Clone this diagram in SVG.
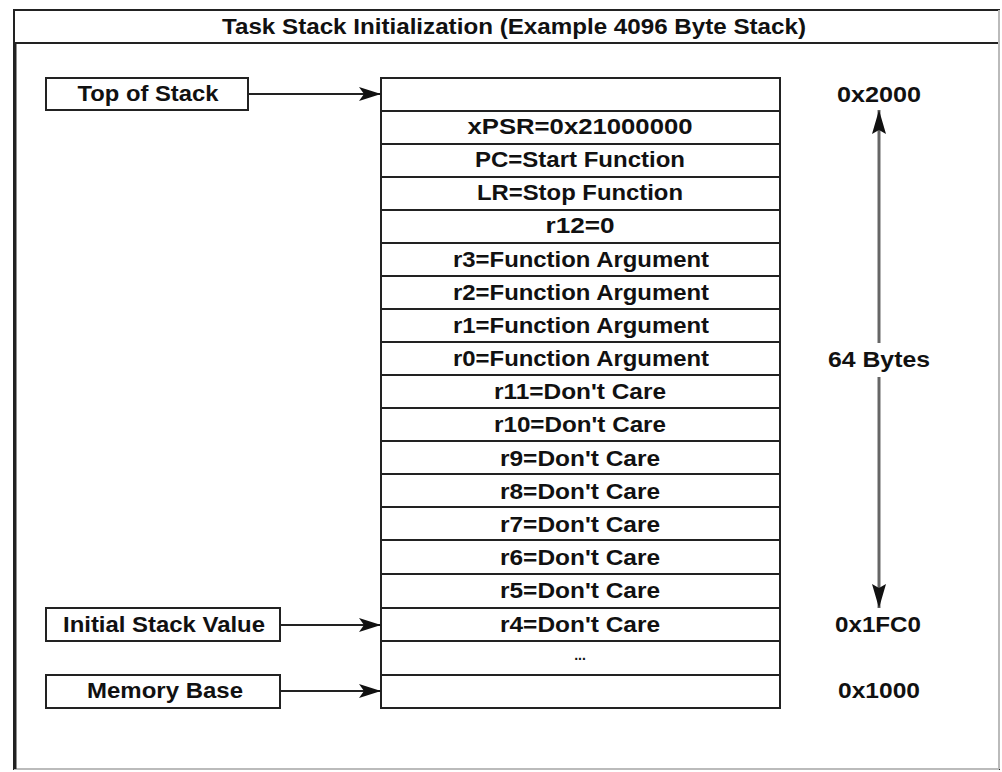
<svg xmlns="http://www.w3.org/2000/svg" width="1002" height="772" viewBox="0 0 1002 772">
<defs>
<style>
text{font-family:"Liberation Sans",Arial,sans-serif;fill:#111;text-anchor:middle;dominant-baseline:central;font-weight:bold;font-size:22px}
.box{fill:#fff;stroke:#222;stroke-width:2}
.row{fill:#fff;stroke:#222;stroke-width:2}
.conn{stroke:#222;stroke-width:2;fill:none}
.dim{stroke:#666;stroke-width:3;fill:none}
</style>
<marker id="ah" viewBox="0 0 22 14" refX="22" refY="7" markerWidth="22" markerHeight="14" markerUnits="userSpaceOnUse" orient="auto">
<path d="M0,0 L22,7 L0,14 L5,7 Z" fill="#111"/>
</marker>
<marker id="ad" viewBox="0 0 24 16" refX="24" refY="8" markerWidth="24" markerHeight="16" markerUnits="userSpaceOnUse" orient="auto">
<path d="M0,1 L24,8 L0,15 L4,8 Z" fill="#111"/>
</marker>
</defs>
<rect width="1002" height="772" fill="#fff"/>
<g id="frame">
<rect x="14" y="10" width="985" height="759" fill="none" stroke="#222" stroke-width="2"/>
<line x1="14" y1="43" x2="999" y2="43" stroke="#222" stroke-width="2"/>
<line x1="999" y1="10" x2="999" y2="769" stroke="#bbb" stroke-width="2"/>
<line x1="14" y1="769" x2="999" y2="769" stroke="#bbb" stroke-width="2"/>
<line x1="15" y1="43" x2="15" y2="769" stroke="#222" stroke-width="3"/>
<text x="514" y="26" textLength="584" lengthAdjust="spacingAndGlyphs">Task Stack Initialization (Example 4096 Byte Stack)</text>
</g>
<g id="stack">
<rect class="row" x="381" y="78" width="399" height="33"/>
<rect class="row" x="381" y="111" width="399" height="33"/><text x="580" y="126" textLength="225" lengthAdjust="spacingAndGlyphs">xPSR=0x21000000</text>
<rect class="row" x="381" y="144" width="399" height="33"/><text x="580" y="159" textLength="210" lengthAdjust="spacingAndGlyphs">PC=Start Function</text>
<rect class="row" x="381" y="177" width="399" height="33"/><text x="580" y="192" textLength="206" lengthAdjust="spacingAndGlyphs">LR=Stop Function</text>
<rect class="row" x="381" y="210" width="399" height="33"/><text x="580" y="225" textLength="69" lengthAdjust="spacingAndGlyphs">r12=0</text>
<rect class="row" x="381" y="243" width="399" height="33"/><text x="581" y="259" textLength="256" lengthAdjust="spacingAndGlyphs">r3=Function Argument</text>
<rect class="row" x="381" y="276" width="399" height="33"/><text x="581" y="292" textLength="256" lengthAdjust="spacingAndGlyphs">r2=Function Argument</text>
<rect class="row" x="381" y="309" width="399" height="33"/><text x="581" y="325" textLength="256" lengthAdjust="spacingAndGlyphs">r1=Function Argument</text>
<rect class="row" x="381" y="342" width="399" height="33"/><text x="581" y="358" textLength="256" lengthAdjust="spacingAndGlyphs">r0=Function Argument</text>
<rect class="row" x="381" y="375" width="399" height="33"/><text x="580" y="391" textLength="172" lengthAdjust="spacingAndGlyphs">r11=Don't Care</text>
<rect class="row" x="381" y="408" width="399" height="33"/><text x="580" y="424" textLength="172" lengthAdjust="spacingAndGlyphs">r10=Don't Care</text>
<rect class="row" x="381" y="441" width="399" height="33"/><text x="580" y="458" textLength="160" lengthAdjust="spacingAndGlyphs">r9=Don't Care</text>
<rect class="row" x="381" y="474" width="399" height="33"/><text x="580" y="491" textLength="160" lengthAdjust="spacingAndGlyphs">r8=Don't Care</text>
<rect class="row" x="381" y="507" width="399" height="33"/><text x="580" y="524" textLength="160" lengthAdjust="spacingAndGlyphs">r7=Don't Care</text>
<rect class="row" x="381" y="540" width="399" height="34"/><text x="580" y="557" textLength="160" lengthAdjust="spacingAndGlyphs">r6=Don't Care</text>
<rect class="row" x="381" y="574" width="399" height="34"/><text x="580" y="590" textLength="160" lengthAdjust="spacingAndGlyphs">r5=Don't Care</text>
<rect class="row" x="381" y="608" width="399" height="33"/><text x="580" y="624" textLength="160" lengthAdjust="spacingAndGlyphs">r4=Don't Care</text>
<rect class="row" x="381" y="641" width="399" height="34"/><text x="580" y="655" style="font-size:14px">...</text>
<rect class="row" x="381" y="675" width="399" height="33"/>
</g>
<g id="top-of-stack">
<rect class="box" x="46" y="78" width="202" height="32"/>
<text x="148" y="93" textLength="141" lengthAdjust="spacingAndGlyphs">Top of Stack</text>
</g>
<g id="initial-stack-value">
<rect class="box" x="46" y="608" width="234" height="33"/>
<text x="164" y="624" textLength="202" lengthAdjust="spacingAndGlyphs">Initial Stack Value</text>
</g>
<g id="memory-base">
<rect class="box" x="46" y="675" width="234" height="33"/>
<text x="165" y="690" textLength="156" lengthAdjust="spacingAndGlyphs">Memory Base</text>
</g>
<g id="addresses">
<text x="879" y="94" textLength="84" lengthAdjust="spacingAndGlyphs">0x2000</text>
<text x="879" y="359" textLength="102" lengthAdjust="spacingAndGlyphs">64 Bytes</text>
<text x="878" y="624" textLength="86" lengthAdjust="spacingAndGlyphs">0x1FC0</text>
<text x="879" y="690" textLength="82" lengthAdjust="spacingAndGlyphs">0x1000</text>
</g>
<g id="connectors">
<line class="conn" x1="248" y1="94" x2="381" y2="94" marker-end="url(#ah)"/>
<line class="conn" x1="280" y1="625" x2="381" y2="625" marker-end="url(#ah)"/>
<line class="conn" x1="280" y1="691" x2="381" y2="691" marker-end="url(#ah)"/>
<line class="dim" x1="879" y1="343" x2="879" y2="110" marker-end="url(#ad)"/>
<line class="dim" x1="879" y1="377" x2="879" y2="608" marker-end="url(#ad)"/>
</g>
</svg>
